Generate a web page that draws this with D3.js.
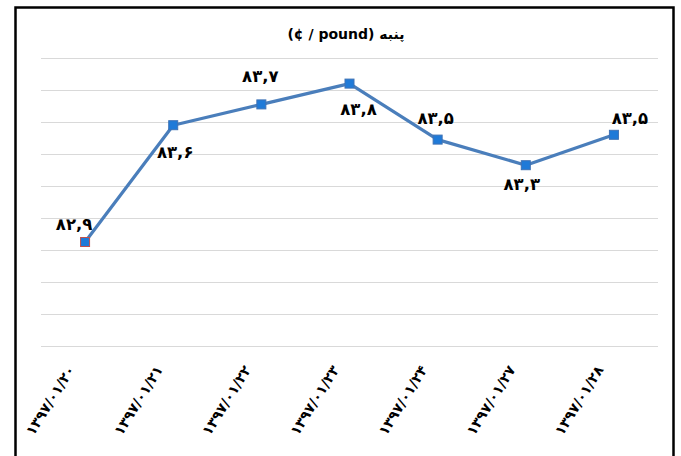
<!DOCTYPE html>
<html>
<head>
<meta charset="utf-8">
<script src="https://cdn.jsdelivr.net/npm/d3@7"></script>
<style>
  body { margin: 0; background: #fff; }
  svg text { font-family: "DejaVu Sans", sans-serif; font-weight: bold; fill: #000; }
</style>
</head>
<body>
<svg id="chart"></svg>
<script>
const dates = ["۱۳۹۷/۰۱/۲۰", "۱۳۹۷/۰۱/۲۱", "۱۳۹۷/۰۱/۲۲", "۱۳۹۷/۰۱/۲۳", "۱۳۹۷/۰۱/۲۴", "۱۳۹۷/۰۱/۲۷", "۱۳۹۷/۰۱/۲۸"];
const prices = [82.85, 83.58, 83.71, 83.84, 83.49, 83.33, 83.52];
const priceLabels = ["۸۲,۹", "۸۳,۶", "۸۳,۷", "۸۳,۸", "۸۳,۵", "۸۳,۳", "۸۳,۵"];
const yTicks = [82.2, 82.4, 82.6, 82.8, 83.0, 83.2, 83.4, 83.6, 83.8, 84.0];
const title = "(¢ / pound) پنبه";

const width = 681;
const height = 456;
const margin = {top: 58, right: 23, bottom: 110, left: 41};

// where each data label sits relative to its point
const labelOffsets = [[-11, -12], [2, 33], [-1, -22], [9, 31], [-2, -16], [-4, 25], [16, -11]];

const svg = d3.select("#chart")
              .attr("width", width)
              .attr("height", height);

svg.append("rect")
    .attr("x", 15.5).attr("y", 7.5)
    .attr("width", 658).attr("height", 470)
    .attr("fill", "#fff")
    .attr("stroke", "#000")
    .attr("stroke-width", 2.5);

const x = d3.scaleBand()
            .domain(dates)
            .range([margin.left, width - margin.right]);

const y = d3.scaleLinear()
            .domain([82.2, 84.0])
            .range([height - margin.bottom, margin.top]);

// gridlines
svg.append("g")
    .selectAll("line")
    .data(yTicks)
    .enter()
    .append("line")
      .attr("x1", margin.left)
      .attr("x2", width - margin.right)
      .attr("y1", d => Math.round(y(d)) + 0.5)
      .attr("y2", d => Math.round(y(d)) + 0.5)
      .attr("stroke", "#d9d9d9")
      .attr("stroke-width", 1.2);

// x axis labels
const xAxis = svg.append("g")
    .attr("transform", `translate(0,${height - margin.bottom})`)
    .call(d3.axisBottom(x).tickSize(0).tickPadding(0));
xAxis.select(".domain").remove();
xAxis.selectAll("text")
    .attr("direction", "ltr")
    .style("font-size", "14px")
    .style("font-family", "DejaVu Sans, sans-serif")
    .style("font-weight", "bold")
    .attr("text-anchor", "end")
    .attr("x", 0).attr("y", 0).attr("dy", "0.35em")
    .attr("transform", "translate(-14,21) rotate(-58)");

const line = d3.line()
               .x((d, i) => x(dates[i]) + x.bandwidth() / 2)
               .y(d => y(d));

svg.append("path")
    .datum(prices)
    .attr("fill", "none")
    .attr("stroke", "#4a7ebb")
    .attr("stroke-width", 3.2)
    .attr("stroke-linejoin", "round")
    .attr("d", line);

svg.append("g")
    .selectAll("rect")
    .data(prices)
    .enter()
    .append("rect")
      .attr("x", (d, i) => x(dates[i]) + x.bandwidth() / 2 - 4.5)
      .attr("y", d => y(d) - 4.5)
      .attr("width", 9)
      .attr("height", 9)
      .attr("fill", "#1f7ad8")
      .attr("stroke", (d, i) => i === 0 ? "#c0504d" : "#3f72b5")
      .attr("stroke-width", 1);

svg.append("g")
    .selectAll("text")
    .data(prices)
    .enter()
    .append("text")
      .attr("direction", "ltr")
      .attr("text-anchor", "middle")
      .attr("font-size", "16.5px")
      .attr("x", (d, i) => x(dates[i]) + x.bandwidth() / 2 + labelOffsets[i][0])
      .attr("y", (d, i) => y(d) + labelOffsets[i][1])
      .text((d, i) => priceLabels[i]);

svg.append("text")
    .attr("direction", "ltr")
    .attr("x", 346)
    .attr("y", 39)
    .attr("text-anchor", "middle")
    .attr("font-size", "14px")
    .text(title);
</script>
</body>
</html>
